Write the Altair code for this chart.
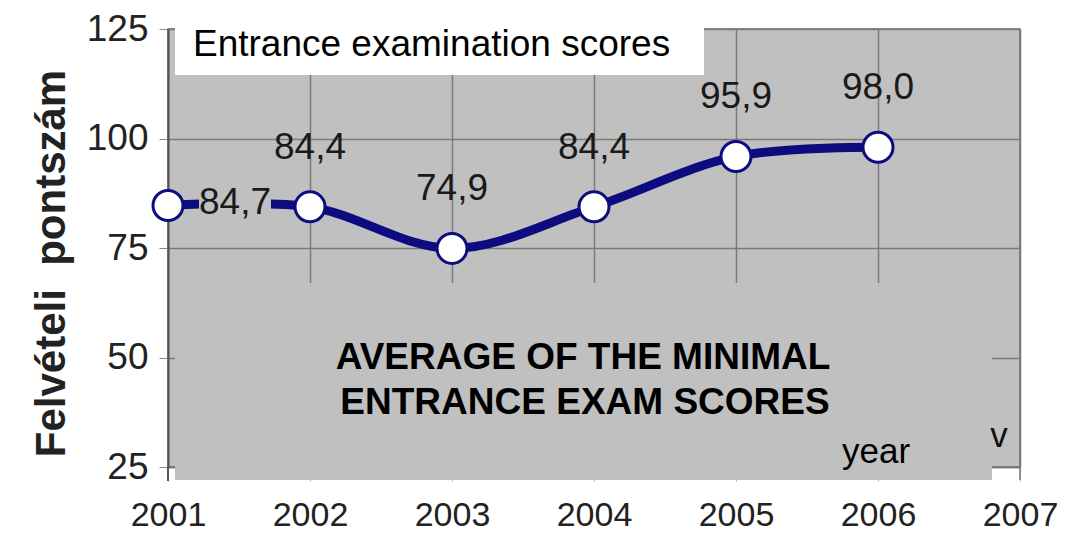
import altair as alt
import pandas as pd

years = [2001, 2002, 2003, 2004, 2005, 2006]
scores = [84.7, 84.4, 74.9, 84.4, 95.9, 98.0]
labels = ["84,7", "84,4", "74,9", "84,4", "95,9", "98,0"]
x_ticks = [2001, 2002, 2003, 2004, 2005, 2006, 2007]
y_ticks = [25, 50, 75, 100, 125]

title_text = "Entrance examination scores"
note_line1 = "AVERAGE OF THE MINIMAL"
note_line2 = "ENTRANCE EXAM SCORES"
year_text = "year"
y_title = "Felvételi\u00a0\u00a0pontszám"

FONT = "Liberation Sans"
NAVY = "#0c0c80"
BG = "#c0c0c0"

df = pd.DataFrame({"year": years, "score": scores, "label": labels})
one = pd.DataFrame({"a": [0]})

xenc = alt.X("year:Q", scale=alt.Scale(domain=[2001, 2007], nice=False),
             axis=alt.Axis(values=x_ticks, format="d", title=None, grid=True,
                           gridColor="#7a7a7a", gridWidth=1.5, labelFlush=False,
                           labelFont=FONT, labelFontSize=34, labelColor="#222",
                           tickSize=14, tickColor="#b0b0b0", labelPadding=17,
                           domainColor="#777", domainWidth=1.5))
yenc = alt.Y("score:Q", scale=alt.Scale(domain=[25, 125], nice=False, zero=False),
             axis=alt.Axis(values=y_ticks, title=y_title, grid=True,
                           gridColor="#7a7a7a", gridWidth=1.5, labelFlush=False,
                           labelFont=FONT, labelFontSize=37, labelColor="#222",
                           tickSize=9, tickColor="#888", labelPadding=11,
                           domainColor="#555", domainWidth=2,
                           titleFont=FONT, titleFontSize=42, titleFontWeight="bold",
                           titleColor="#222", titleX=-117, titleY=234,
                           titleAngle=270, titleAlign="center", titleBaseline="middle"))

base = alt.Chart(df)

line = base.mark_line(color=NAVY, strokeWidth=9, interpolate="catmull-rom").encode(x=xenc, y=yenc)

first = base.transform_filter(alt.datum.year == 2001)
halo = first.mark_rect(color=BG, opacity=1, xOffset=31, x2Offset=103,
                       yOffset=-16, y2Offset=16).encode(
    x="year:Q", x2="year:Q", y="score:Q", y2="score:Q")

pts = base.mark_circle(size=900, color="white", opacity=1, stroke=NAVY, strokeWidth=3).encode(
    x="year:Q", y="score:Q")

lbl_first = first.mark_text(
    font=FONT, fontSize=37, dx=67, dy=-3, baseline="middle", align="center", color="#1a1a1a"
).encode(x="year:Q", y="score:Q", text="label:N")

lbl_rest = base.transform_filter(alt.datum.year != 2001).mark_text(
    font=FONT, fontSize=37, dy=-59, baseline="middle", align="center", color="#1a1a1a"
).encode(x="year:Q", y="score:Q", text="label:N")

ann = alt.Chart(one)
white_box = ann.mark_rect(color="white", opacity=1).encode(
    x=alt.value(7), x2=alt.value(536), y=alt.value(-29), y2=alt.value(46))
box_text = ann.mark_text(font=FONT, fontSize=37, align="left", baseline="middle",
                         color="black", text=title_text).encode(x=alt.value(25), y=alt.value(16))

gray_box = ann.mark_rect(color=BG, opacity=1).encode(
    x=alt.value(7), x2=alt.value(824), y=alt.value(254), y2=alt.value(451))
note1 = ann.mark_text(font=FONT, fontSize=37, fontWeight="bold", align="center",
                      baseline="middle", color="black", text=note_line1).encode(
    x=alt.value(415), y=alt.value(329))
note2 = ann.mark_text(font=FONT, fontSize=37, fontWeight="bold", align="center",
                      baseline="middle", color="black", text=note_line2).encode(
    x=alt.value(417), y=alt.value(374))
year_lbl = ann.mark_text(font=FONT, fontSize=35, align="left", baseline="alphabetic",
                         color="black", text=year_text).encode(x=alt.value(674), y=alt.value(434))
v_lbl = ann.mark_text(font=FONT, fontSize=35, align="center", baseline="alphabetic",
                      color="#111", text="v").encode(x=alt.value(831), y=alt.value(418))
left_ext = ann.mark_rule(color="#555", strokeWidth=2).encode(
    x=alt.value(0), y=alt.value(438), y2=alt.value(452))
right_ext = ann.mark_rule(color="#777", strokeWidth=1.5).encode(
    x=alt.value(852), y=alt.value(438), y2=alt.value(451))

chart = alt.layer(
    line, halo, pts, lbl_first, lbl_rest,
    white_box, box_text, gray_box, note1, note2, year_lbl, v_lbl, left_ext, right_ext
).properties(
    width=852, height=438,
    padding={"left": 160, "top": 21, "right": 38, "bottom": 68},
    autosize="none", background="white"
).configure_view(fill=BG, stroke="#666", strokeWidth=1.5)

chart.save("out.html", embed_options={"renderer": "svg", "actions": False})
